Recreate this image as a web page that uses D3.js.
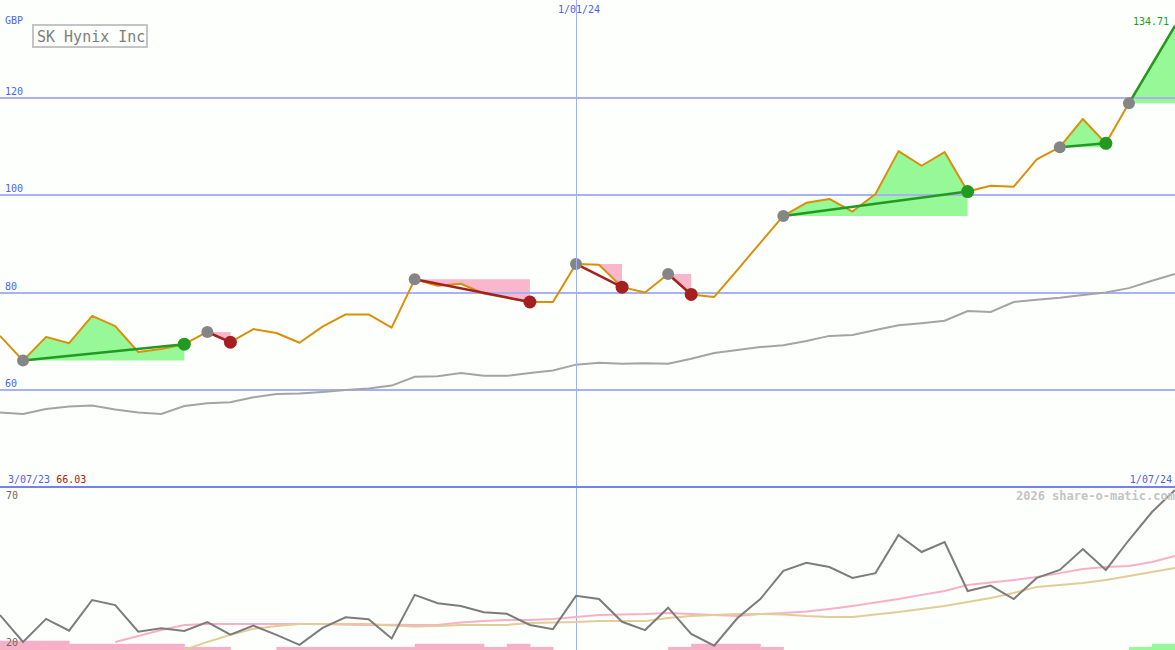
<!DOCTYPE html>
<html>
<head>
<meta charset="utf-8">
<script src="https://cdn.jsdelivr.net/npm/d3@7"></script>
<style>
  html, body { margin: 0; padding: 0; background: #fcfffc; }
  svg { display: block; }
  text { font-family: "DejaVu Sans Mono", "Liberation Mono", monospace; }
</style>
</head>
<body>
<svg id="chart" width="1175" height="650"></svg>
<script>
// ---------- data ----------
const title = "SK Hynix Inc";
const currency = "GBP";
const dateLabels = ["3/07/23", "1/01/24", "1/07/24"];
const dateIndex = [0, 25, 51];
const firstPriceLabel = "66.03";
const lastPriceLabel = "134.71";
const priceTicks = [60, 80, 100, 120];
const oscTicks = [70, 20];

// weekly close (GBP)
const price = [71.1, 66.03, 70.9, 69.6, 75.2, 73.1, 67.8, 68.4, 69.4, 71.9,
  69.8, 72.5, 71.7, 69.7, 73.0, 75.5, 75.5, 72.8, 82.7, 81.4,
  81.8, 79.8, 78.9, 78.05, 78.05, 85.85, 85.7, 81.1, 80.0, 83.8,
  79.6, 79.1, 84.6, 90.2, 95.7, 98.4, 99.2, 96.6, 100.2, 109.0,
  106.0, 108.8, 100.7, 101.9, 101.7, 107.3, 109.8, 115.6, 110.6, 118.8,
  126.7, 134.71];

// long moving average (grey)
const priceMA = [55.4, 55.1, 56.1, 56.6, 56.8, 56.0, 55.4, 55.1, 56.7, 57.3,
  57.5, 58.5, 59.2, 59.3, 59.6, 60.0, 60.3, 60.9, 62.7, 62.8,
  63.5, 62.9, 62.9, 63.5, 64.0, 65.2, 65.6, 65.4, 65.5, 65.4,
  66.4, 67.6, 68.2, 68.8, 69.2, 70.05, 71.1, 71.3, 72.3, 73.3,
  73.7, 74.2, 76.2, 76.0, 78.05, 78.5, 78.9, 79.5, 80.0, 80.9,
  82.4, 83.8];

// trend signals [startIndex, endIndex]
const upSignals = [[1, 8], [34, 42], [46, 48], [49, 51]];
const downSignals = [[9, 10], [18, 23], [25, 27], [29, 30]];

// lower panel oscillator
const osc = [30.3, 21.9, 29.1, 25.4, 35.0, 33.4, 25.1, 26.2, 25.3, 28.1,
  24.2, 27.0, 24.1, 21.0, 26.3, 29.6, 29.0, 23.0, 36.6, 34.0,
  33.1, 31.2, 30.7, 27.2, 25.9, 36.3, 35.3, 28.2, 25.6, 32.6,
  24.4, 20.7, 29.3, 35.3, 44.1, 46.6, 45.3, 41.9, 43.4, 55.3,
  50.0, 53.1, 37.8, 39.5, 35.3, 41.9, 44.4, 50.9, 44.4, 53.75,
  62.5, 69.4];
// short average of oscillator (pink), starts at index 5
const oscFast = [null, null, null, null, null, 21.9, 23.75, 25.6, 27.2, 27.5,
  27.5, 27.5, 27.5, 27.5, 27.5, 27.3, 27.2, 27.3, 27.2, 27.2,
  28.0, 28.4, 28.75, 28.75, 29.1, 29.7, 30.3, 30.5, 30.6, 30.9,
  30.6, 30.3, 30.0, 30.6, 30.9, 31.4, 32.2, 33.1, 34.2, 35.3,
  36.6, 37.8, 39.7, 40.5, 41.25, 42.2, 43.4, 44.7, 45.3, 45.6,
  46.9, 48.75];
// long average of oscillator (tan), starts at index 8
const oscSlow = [null, null, null, null, null, null, null, null, 19.4, 21.9,
  24.1, 26.0, 26.9, 27.5, 27.5, 27.5, 27.5, 27.0, 26.7, 26.9,
  27.2, 27.2, 27.2, 27.8, 28.0, 28.1, 28.4, 28.4, 28.4, 29.4,
  30.0, 30.3, 30.6, 30.6, 30.5, 30.0, 29.7, 29.7, 30.5, 31.25,
  32.2, 33.1, 34.4, 35.6, 37.2, 39.1, 39.7, 40.3, 41.25, 42.5,
  43.75, 45.0];
// histogram (negative = pink, positive = green)
const hist = [-3, -3, -3, -2, -2, -2, -2, -2, -1, -1,
  0, 0, -1, -1, -1, -1, -1, -1, -2, -2,
  -2, -1, -2, -1, 0, 0, 0, 0, 0, -1,
  -2, -2, -2, -1, 0, 0, 0, 0, 0, 0,
  0, 0, 0, 0, 0, 0, 0, 0, 0, 1,
  2, 2];

// ---------- drawing ----------
const W = 1175, H = 650;
const svg = d3.select("#chart");
const idx = d3.range(price.length);

const x = d3.scaleLinear().domain([0, price.length - 1]).range([0, W]);
const yP = d3.scaleLinear().domain([60, 120]).range([390, 97.5]);
const yO = d3.scaleLinear().domain([20, 70]).range([648, 488]);
const barH = d3.scaleLinear().domain([0, 3]).range([0, 9.3]);

const C = {
  bg: "#fcfffc", grid: "#a8b2f2", gridText: "#4f5ff0", sep: "#7282f0",
  vline: "#a0b0f8", price: "#d99008", ma: "#a4a4a4",
  upFill: "#96f896", downFill: "#f9b6cc", up: "#229a22", down: "#a42020",
  circle: "#858585", osc: "#7c7c7c", fast: "#f8b0c8", slow: "#e2cc98"
};

svg.append("rect").attr("width", W).attr("height", H).attr("fill", C.bg);

// price panel clip
svg.append("clipPath").attr("id", "pclip").append("rect")
  .attr("x", 0).attr("y", 0).attr("width", W).attr("height", 486);
const pg = svg.append("g").attr("clip-path", "url(#pclip)");

// signal fills
function fillPath(s, e) {
  const pts = d3.range(s, e + 1).map(i => [x(i), yP(price[i])]);
  pts.push([x(e), yP(price[s])]);
  return d3.line()(pts) + "Z";
}
pg.selectAll("path.up-fill").data(upSignals).join("path")
  .attr("class", "up-fill").attr("d", d => fillPath(d[0], d[1]))
  .attr("fill", C.upFill);
pg.selectAll("path.down-fill").data(downSignals).join("path")
  .attr("class", "down-fill").attr("d", d => fillPath(d[0], d[1]))
  .attr("fill", C.downFill);

// horizontal grid
pg.selectAll("line.grid").data(priceTicks).join("line")
  .attr("x1", 0).attr("x2", W)
  .attr("y1", d => Math.round(yP(d))).attr("y2", d => Math.round(yP(d)))
  .attr("stroke", C.grid).attr("stroke-width", 2);
svg.selectAll("text.grid").data(priceTicks).join("text")
  .attr("x", 5).attr("y", d => Math.round(yP(d)) - 3)
  .attr("font-size", 10).attr("fill", C.gridText).text(d => d);

// vertical date line
svg.append("line")
  .attr("x1", Math.round(x(dateIndex[1])) + 0.5).attr("x2", Math.round(x(dateIndex[1])) + 0.5)
  .attr("y1", 0).attr("y2", H).attr("stroke", C.vline).attr("stroke-width", 1);

// moving average
pg.append("path").datum(idx)
  .attr("d", d3.line().x(i => x(i)).y(i => yP(priceMA[i])))
  .attr("fill", "none").attr("stroke", C.ma).attr("stroke-width", 2);

// price line
pg.append("path").datum(idx)
  .attr("d", d3.line().x(i => x(i)).y(i => yP(price[i])))
  .attr("fill", "none").attr("stroke", C.price).attr("stroke-width", 2)
  .attr("stroke-linejoin", "round");

// signal lines
pg.selectAll("line.up").data(upSignals).join("line")
  .attr("x1", d => x(d[0])).attr("y1", d => yP(price[d[0]]))
  .attr("x2", d => x(d[1])).attr("y2", d => yP(price[d[1]]))
  .attr("stroke", C.up).attr("stroke-width", 2.5);
pg.selectAll("line.down").data(downSignals).join("line")
  .attr("x1", d => x(d[0])).attr("y1", d => yP(price[d[0]]))
  .attr("x2", d => x(d[1])).attr("y2", d => yP(price[d[1]]))
  .attr("stroke", C.down).attr("stroke-width", 2.5);

// circles
const last = price.length - 1;
const allSig = upSignals.map(d => ({s: d[0], e: d[1], up: true}))
  .concat(downSignals.map(d => ({s: d[0], e: d[1], up: false})));
pg.selectAll("circle.start").data(allSig).join("circle")
  .attr("cx", d => x(d.s)).attr("cy", d => yP(price[d.s])).attr("r", 6)
  .attr("fill", C.circle);
pg.selectAll("circle.end").data(allSig.filter(d => d.e !== last)).join("circle")
  .attr("cx", d => x(d.e)).attr("cy", d => yP(price[d.e])).attr("r", 6.5)
  .attr("fill", d => d.up ? C.up : C.down);

// title box
svg.append("rect").attr("x", 33).attr("y", 25).attr("width", 114).attr("height", 22)
  .attr("fill", C.bg).attr("stroke", "#c4c4c4").attr("stroke-width", 2);
svg.append("text").attr("x", 37).attr("y", 42).attr("font-size", 15)
  .attr("fill", "#7e7e7e").text(title);

svg.append("text").attr("x", 5).attr("y", 24).attr("font-size", 10)
  .attr("fill", C.gridText).text(currency);
svg.append("text").attr("x", 1169).attr("y", 25).attr("font-size", 10)
  .attr("text-anchor", "end").attr("fill", C.up).text(lastPriceLabel);
svg.append("text").attr("x", x(dateIndex[1]) + 3).attr("y", 13).attr("font-size", 10)
  .attr("text-anchor", "middle").attr("fill", C.gridText).text(dateLabels[1]);

// bottom date labels
const lbl = svg.append("text").attr("x", 8).attr("y", 483).attr("font-size", 10);
lbl.append("tspan").attr("fill", C.gridText).text(dateLabels[0] + " ");
lbl.append("tspan").attr("fill", C.down).text(firstPriceLabel);
svg.append("text").attr("x", 1172).attr("y", 483).attr("font-size", 10)
  .attr("text-anchor", "end").attr("fill", C.gridText).text(dateLabels[2]);

// separator
svg.append("line").attr("x1", 0).attr("x2", W).attr("y1", 487).attr("y2", 487)
  .attr("stroke", C.sep).attr("stroke-width", 2);

// ---------- lower panel ----------
// histogram
const bw = x(1) - x(0);
svg.selectAll("rect.hist").data(idx.filter(i => hist[i] !== 0)).join("rect")
  .attr("x", i => x(i)).attr("width", bw + 0.5)
  .attr("y", i => H - barH(Math.abs(hist[i])))
  .attr("height", i => barH(Math.abs(hist[i])))
  .attr("fill", i => hist[i] < 0 ? C.fast : C.upFill);

const lineDef = arr => d3.line().defined(i => arr[i] !== null).x(i => x(i)).y(i => yO(arr[i]));
svg.append("path").datum(idx).attr("d", lineDef(oscFast))
  .attr("fill", "none").attr("stroke", C.fast).attr("stroke-width", 2);
svg.append("path").datum(idx).attr("d", lineDef(oscSlow))
  .attr("fill", "none").attr("stroke", C.slow).attr("stroke-width", 2);
svg.append("path").datum(idx).attr("d", lineDef(osc))
  .attr("fill", "none").attr("stroke", C.osc).attr("stroke-width", 2);

svg.append("text").attr("x", 1016).attr("y", 500).attr("font-size", 12)
  .attr("font-weight", "bold").attr("fill", "#c4c4c4").text("2026 share-o-matic.com");

svg.selectAll("text.osc").data(oscTicks).join("text")
  .attr("x", 6).attr("y", (d, i) => i === 0 ? 499 : 646)
  .attr("font-size", 10).attr("fill", "#6a6a6a").text(d => d);
</script>
</body>
</html>
